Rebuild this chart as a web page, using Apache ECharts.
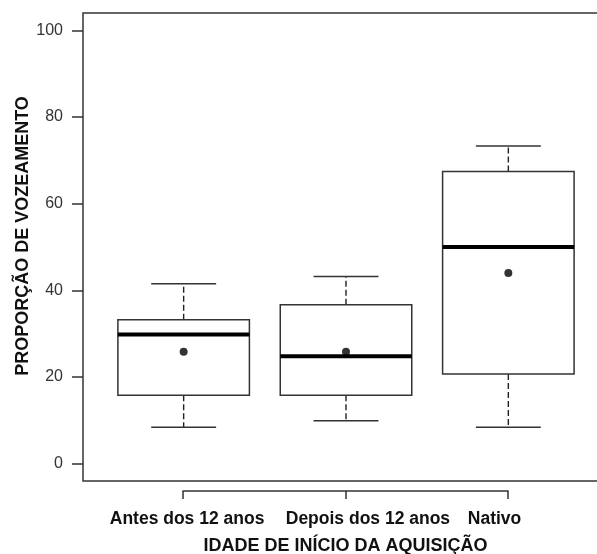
<!DOCTYPE html>
<html>
<head>
<meta charset="utf-8">
<script src="https://cdn.jsdelivr.net/npm/echarts@6/dist/echarts.min.js"></script>
<style>
  html, body { margin: 0; padding: 0; background: #fff; }
  #chart { width: 597px; height: 554px; }
</style>
</head>
<body>
<div id="chart"></div>
<script>
const categories = ['Antes dos 12 anos', 'Depois dos 12 anos', 'Nativo'];
const whiskerLow = [8.4, 9.9, 8.4];
const q1 = [15.8, 15.8, 20.7];
const median = [29.8, 24.8, 50.0];
const q3 = [33.2, 36.7, 67.4];
const whiskerHigh = [41.5, 43.2, 73.3];
const means = [25.8, 25.8, 44.0];
const yTicks = [0, 20, 40, 60, 80, 100];

// label centres are a bit off the ticks in the original
const labelPos = [1.025, 2.138, 2.917];

const FONT = '"Liberation Sans", Arial, sans-serif';
const LINE = '#333';

const chart = echarts.init(document.getElementById('chart'));

const boxData = categories.map((c, i) => [i + 1, whiskerLow[i], q1[i], median[i], q3[i], whiskerHigh[i]]);
const meanData = categories.map((c, i) => [i + 1, means[i]]);

const renderBox = (params, api) => {
  const x = api.value(0);
  const lo = api.coord([x, api.value(1)]);
  const b = api.coord([x, api.value(2)]);
  const m = api.coord([x, api.value(3)]);
  const t = api.coord([x, api.value(4)]);
  const hi = api.coord([x, api.value(5)]);
  const halfBox = api.size([0.81, 0])[0] / 2;
  const halfCap = api.size([0.4, 0])[0] / 2;
  const cx = lo[0];
  const dashed = { stroke: '#222', lineWidth: 1.4, lineDash: [6, 3] };
  const solid = { stroke: LINE, lineWidth: 1.5 };
  return {
    type: 'group',
    children: [
      { type: 'line', shape: { x1: cx, y1: b[1], x2: cx, y2: lo[1] }, style: dashed },
      { type: 'line', shape: { x1: cx, y1: t[1], x2: cx, y2: hi[1] }, style: dashed },
      { type: 'line', shape: { x1: cx - halfCap, y1: lo[1], x2: cx + halfCap, y2: lo[1] }, style: solid },
      { type: 'line', shape: { x1: cx - halfCap, y1: hi[1], x2: cx + halfCap, y2: hi[1] }, style: solid },
      { type: 'rect', shape: { x: cx - halfBox, y: t[1], width: halfBox * 2, height: b[1] - t[1] },
        style: { fill: '#fff', stroke: LINE, lineWidth: 1.5 } },
      { type: 'line', shape: { x1: cx - halfBox, y1: m[1], x2: cx + halfBox, y2: m[1] },
        style: { stroke: '#000', lineWidth: 4 } }
    ]
  };
};

const option = {
  backgroundColor: '#fff',
  animation: false,
  textStyle: { fontFamily: FONT },
  grid: [
    { left: 83, top: 13, width: 526, height: 468, show: true, borderColor: LINE, borderWidth: 1.5,
      backgroundColor: '#fff', outerBoundsMode: 'none', containLabel: false },
    { left: 183, top: 491, width: 325, height: 0, outerBoundsMode: 'none', containLabel: false }
  ],
  xAxis: [
    { gridIndex: 0, type: 'value', min: 0.38, max: 3.62, show: false },
    {
      gridIndex: 1, type: 'value', min: 1, max: 3, interval: 1,
      axisLine: { show: true, lineStyle: { color: LINE, width: 1.5 } },
      axisTick: { show: true, length: 8, customValues: [1, 2, 3], lineStyle: { color: LINE, width: 1.5 } },
      axisLabel: {
        customValues: labelPos, margin: 19, color: '#111', fontSize: 17.5, fontWeight: 'bold', fontFamily: FONT,
        formatter: (v) => categories[labelPos.indexOf(v)] || ''
      },
      splitLine: { show: false },
      name: 'IDADE DE INÍCIO DA AQUISIÇÃO', nameLocation: 'middle', nameGap: 46, nameMoveOverlap: false,
      nameTextStyle: { color: '#111', fontSize: 18, fontWeight: 'bold', fontFamily: FONT }
    }
  ],
  yAxis: [
    {
      gridIndex: 0, type: 'value', min: -4, max: 104,
      axisLine: { show: false },
      axisTick: { show: true, length: 11, customValues: yTicks, lineStyle: { color: LINE, width: 1.5 } },
      axisLabel: { customValues: yTicks, margin: 20, color: '#333', fontSize: 16, fontFamily: FONT },
      splitLine: { show: false },
      name: 'PROPORÇÃO DE VOZEAMENTO', nameLocation: 'middle', nameRotate: 90, nameGap: 51, nameMoveOverlap: false,
      nameTextStyle: { color: '#111', fontSize: 18, fontWeight: 'bold', fontFamily: FONT, padding: [0, 0, 0, 22] }
    },
    { gridIndex: 1, type: 'value', show: false }
  ],
  series: [
    {
      type: 'custom', xAxisIndex: 0, yAxisIndex: 0,
      renderItem: renderBox,
      encode: { x: 0, y: [1, 2, 3, 4, 5] },
      data: boxData
    },
    {
      type: 'scatter', xAxisIndex: 0, yAxisIndex: 0,
      symbol: 'circle', symbolSize: 8,
      itemStyle: { color: '#000' },
      z: 5,
      data: meanData
    }
  ]
};

chart.setOption(option);
</script>
</body>
</html>
